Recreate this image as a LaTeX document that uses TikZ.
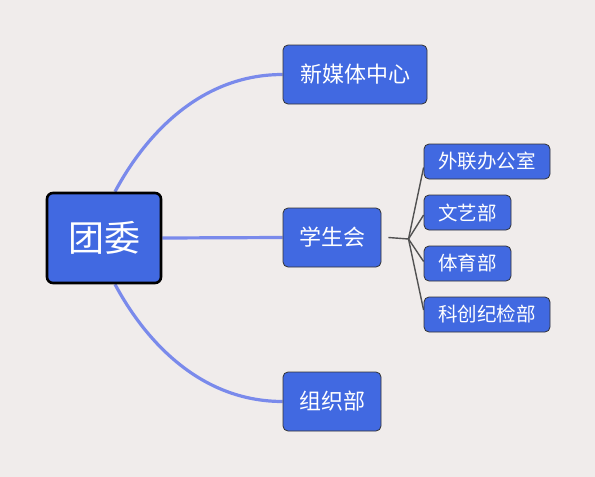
\documentclass[tikz,border=0pt]{standalone}
\usepackage{fontspec}
\setmainfont{Noto Sans CJK SC}
\usetikzlibrary{backgrounds}
\begin{document}
\begin{tikzpicture}[x=1pt,y=-1pt,
  box/.style={draw=black!80, line width=0.8pt, rounded corners=5pt, fill=royal, text=white, inner sep=0pt, font=\fontsize{22}{22}\selectfont},
  gbox/.style={box, font=\fontsize{19.5}{19.5}\selectfont},
  rootbox/.style={draw=black, line width=2.6pt, rounded corners=6pt, fill=royal, text=white, inner sep=0pt, minimum width=114pt, minimum height=90pt, font=\fontsize{36}{36}\selectfont},
  main/.style={draw=mainline, line width=3.2pt},
  sub/.style={draw=black!68, line width=1.4pt}]
\definecolor{bg}{HTML}{F0ECEB}
\definecolor{royal}{HTML}{4169E1}
\definecolor{mainline}{HTML}{7A8AEB}

\node[rootbox] (root) at (104,238) {团委};
\node[box, minimum width=144pt, minimum height=59pt] (c1) at (355,74.5) {新媒体中心};
\node[box, minimum width=98pt, minimum height=59pt] (c2) at (332,237.5) {学生会};
\node[box, minimum width=98pt, minimum height=59pt] (c3) at (332,401.5) {组织部};
\node[gbox, minimum width=126pt, minimum height=35pt] (g1) at (487,161.5) {外联办公室};
\node[gbox, minimum width=87pt, minimum height=35pt] (g2) at (467.5,212.5) {文艺部};
\node[gbox, minimum width=87pt, minimum height=35pt] (g3) at (467.5,263.5) {体育部};
\node[gbox, minimum width=126pt, minimum height=35pt] (g4) at (487,314.5) {科创纪检部};
\coordinate (hub) at (408.5,239);

\begin{scope}[on background layer]
\fill[bg] (0,0) rectangle (595,477);
\draw[main] ([xshift=11pt]root.north) .. controls +(15,-28) and +(-100,0) .. (c1.west);
\draw[main] ([xshift=11pt]root.south) .. controls +(15,28) and +(-100,0) .. (c3.west);
\draw[main] (root.east) -- (c2.west);
\draw[sub] ([xshift=7pt]c2.east) -- (hub);
\draw[sub] (hub) -- ([yshift=-6pt]g1.west);
\draw[sub] (hub) -- ([yshift=-2.5pt]g2.west);
\draw[sub] (hub) -- ([yshift=2pt]g3.west);
\draw[sub] (hub) -- ([yshift=4.5pt]g4.west);
\end{scope}
\useasboundingbox (0,0) rectangle (595,477);
\end{tikzpicture}
\end{document}
